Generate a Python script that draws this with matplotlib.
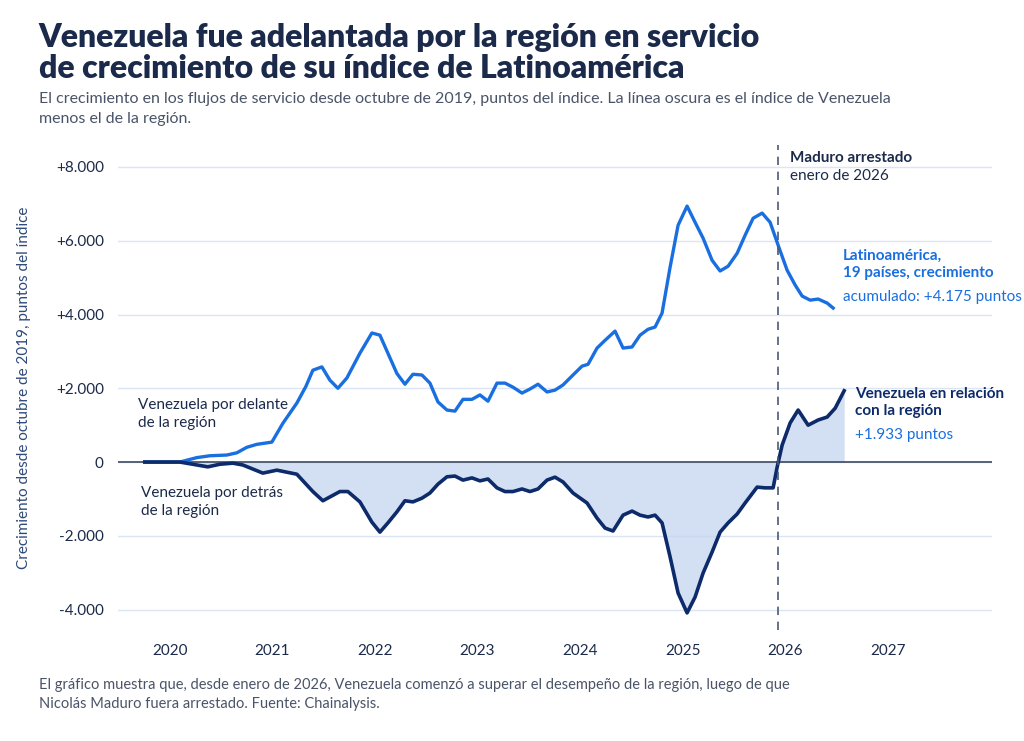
import matplotlib
matplotlib.use("Agg")
import matplotlib.pyplot as plt
import numpy as np

def yr(px):
    return [2020 + (p - 170) / 102.5 for p in px]

region_px = [145, 180, 197, 210, 227, 237, 247, 257, 272, 283, 297, 306, 313, 322, 330, 338, 347,
             360, 372, 380, 388, 397, 405, 413, 422, 430, 438, 447, 455, 463, 472, 480, 488, 497,
             505, 513, 522, 530, 538, 547, 555, 563, 573, 582, 588, 597, 605, 615, 623, 632, 640,
             648, 655, 662, 670, 678, 687, 695, 703, 712, 720, 728, 737, 745, 753, 762, 770, 778,
             787, 795, 802, 810, 818, 827, 833]
region_val = [0, 0, 120, 170, 190, 250, 400, 480, 540, 1050, 1600, 2050, 2490, 2580, 2220, 2000,
              2280, 2950, 3500, 3440, 2950, 2400, 2110, 2380, 2360, 2140, 1630, 1410, 1380, 1700,
              1700, 1820, 1650, 2140, 2140, 2030, 1870, 1980, 2110, 1900, 1950, 2090, 2360, 2600,
              2650, 3090, 3300, 3550, 3090, 3120, 3440, 3600, 3660, 4040, 5280, 6420, 6940, 6500,
              6070, 5470, 5180, 5310, 5660, 6150, 6610, 6750, 6500, 5880, 5200, 4800, 4500, 4390,
              4420, 4310, 4175]

diff_px = [145, 180, 208, 220, 233, 243, 263, 277, 297, 313, 323, 340, 348, 360, 372, 380, 388,
           397, 405, 413, 422, 430, 438, 447, 455, 463, 472, 480, 488, 497, 505, 513, 522, 530,
           538, 547, 555, 563, 573, 587, 597, 605, 613, 623, 632, 640, 648, 655, 662, 670, 678,
           687, 695, 703, 712, 720, 728, 737, 745, 757, 765, 773, 777, 782, 790, 798, 808, 818,
           827, 835, 844]
diff_val = [0, 0, -130, -60, -30, -80, -300, -220, -330, -800, -1050, -800, -800, -1080, -1630,
            -1900, -1650, -1350, -1050, -1080, -980, -840, -600, -400, -380, -490, -430, -510,
            -460, -700, -800, -800, -730, -800, -730, -490, -410, -540, -840, -1110, -1520, -1790,
            -1870, -1440, -1330, -1440, -1490, -1440, -1650, -2570, -3550, -4090, -3660, -3010,
            -2440, -1900, -1650, -1410, -1110, -680, -700, -700, -140, 460, 1060, 1410, 1000, 1140,
            1220, 1460, 1933]

years = [2020, 2021, 2022, 2023, 2024, 2025, 2026, 2027]
yticks = [-4000, -2000, 0, 2000, 4000, 6000, 8000]
ylabels = ["-4.000", "-2.000", "0", "+2.000", "+4.000", "+6.000", "+8.000"]
arrest = yr([778])[0]

NAVY = "#0d2b6b"
BLUE = "#1a6fe0"
TXT = "#1b2a4a"
GRAY = "#4a5468"

plt.rcParams["font.family"] = ["Lato", "DejaVu Sans"]
fig = plt.figure(figsize=(10.24, 7.41), dpi=100)
ax = fig.add_axes([0.115, 0.15, 0.854, 0.654])

xr, xd = yr(region_px), yr(diff_px)
ax.fill_between(xd, diff_val, 0, color="#c8d7ef", alpha=0.8, lw=0)
ax.axhline(0, color="#3c4a60", lw=1.2)
ax.plot(xr, region_val, color=BLUE, lw=2.4, solid_joinstyle="round")
ax.plot(xd, diff_val, color=NAVY, lw=2.6, solid_joinstyle="round")
ax.axvline(arrest, color="#4a5a74", lw=1.2, ls=(0, (5, 4)))

ax.set_xlim(yr([118])[0], yr([992])[0])
ax.set_ylim(-4550, 8590)
ax.set_yticks(yticks)
ax.set_yticklabels(ylabels)
ax.set_xticks(years)
ax.grid(axis="y", color="#dbe5f5", lw=1)
ax.set_axisbelow(True)
for s in ax.spines.values():
    s.set_visible(False)
ax.tick_params(length=0, labelsize=11, colors=TXT, pad=10)
ax.set_ylabel("Crecimiento desde octubre de 2019, puntos del índice", color="#2d4a7a",
              fontsize=11, labelpad=18)

ax.text(arrest + 0.12, 8250, "Maduro arrestado", fontsize=11, fontweight="bold", color=TXT, va="center")
ax.text(arrest + 0.12, 7750, "enero de 2026", fontsize=11, color=TXT, va="center")
ax.text(yr([843])[0], 5350, "Latinoamérica,\n19 países, crecimiento", fontsize=11,
        fontweight="bold", color=BLUE, va="center", linespacing=1.3)
ax.text(yr([843])[0], 4470, "acumulado: +4.175 puntos", fontsize=11, color=BLUE, va="center")
ax.text(yr([855])[0], 1620, "Venezuela en relación\ncon la región", fontsize=11,
        fontweight="bold", color=NAVY, va="center", linespacing=1.3)
ax.text(yr([855])[0], 720, "+1.933 puntos", fontsize=11, color=BLUE, va="center")
ax.text(yr([138])[0], 1300, "Venezuela por delante\nde la región", fontsize=11, color=TXT,
        va="center", linespacing=1.4)
ax.text(yr([141])[0], -1080, "Venezuela por detrás\nde la región", fontsize=11, color=TXT,
        va="center", linespacing=1.4)

fig.text(0.038, 0.888, "Venezuela fue adelantada por la región en servicio\nde crecimiento de su índice de Latinoamérica",
         fontsize=23, fontweight="heavy", color=TXT, va="bottom", linespacing=1.1)
fig.text(0.038, 0.83, "El crecimiento en los flujos de servicio desde octubre de 2019, puntos del índice. La línea oscura es el índice de Venezuela\nmenos el de la región.",
         fontsize=11.5, color=GRAY, va="bottom", linespacing=1.5)
fig.text(0.038, 0.04, "El gráfico muestra que, desde enero de 2026, Venezuela comenzó a superar el desempeño de la región, luego de que\nNicolás Maduro fuera arrestado. Fuente: Chainalysis.",
         fontsize=10.5, color=GRAY, va="bottom", linespacing=1.5)

fig.savefig("out.png", dpi=100, facecolor="white")
